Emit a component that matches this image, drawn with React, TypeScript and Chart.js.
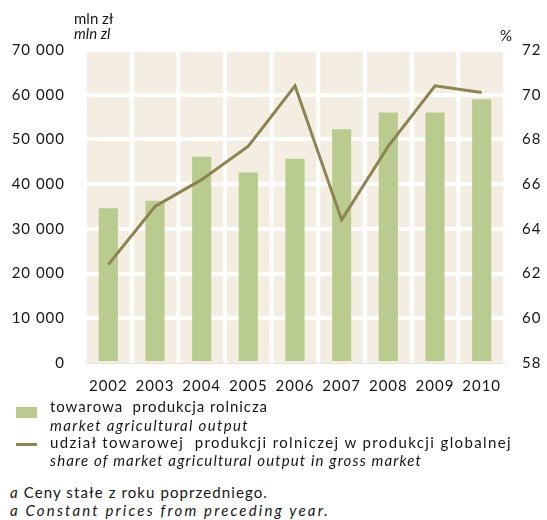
import { useEffect, useLayoutEffect, useRef } from 'react';
import { Chart, registerables } from 'chart.js';

Chart.register(...registerables);

const years = ['2002', '2003', '2004', '2005', '2006', '2007', '2008', '2009', '2010'];
const marketOutput = [34600, 36300, 46100, 42600, 45700, 52300, 56000, 56000, 59000];
const sharePercent = [62.4, 65.0, 66.2, 67.7, 70.4, 64.4, 67.7, 70.4, 70.1];
const leftMin = 0;
const leftMax = 70000;
const leftStep = 10000;
const rightMin = 58;
const rightMax = 72;
const rightStep = 2;

const FONT = 'Lato, "Open Sans", sans-serif';
const TEXT = '#161616';
const BAR = '#b9cb8f';
const LINE = '#8c8451';
const BEIGE = '#f4eee2';

const fmt = (v: number) => String(v).replace(/\B(?=(\d{3})+(?!\d))/g, ' ');

const bgPlugin = {
  id: 'bgPlugin',
  beforeDraw(chart: any) {
    const { ctx, chartArea } = chart;
    try { ctx.letterSpacing = '1px'; } catch (e) { /* ignore */ }
    if (!chartArea) return;
    ctx.save();
    ctx.fillStyle = BEIGE;
    ctx.fillRect(chartArea.left, chartArea.top, chartArea.right - chartArea.left, chartArea.bottom - chartArea.top);
    ctx.restore();
  },
  beforeDatasetsDraw(chart: any) {
    const { ctx, chartArea } = chart;
    const xs = chart.scales.x;
    if (!chartArea || !xs) return;
    const n = xs.ticks.length;
    const half = (xs.getPixelForTick(1) - xs.getPixelForTick(0)) / 2;
    ctx.save();
    ctx.strokeStyle = '#ffffff';
    ctx.lineWidth = 4;
    for (let i = 0; i <= n; i++) {
      const px = i < n ? xs.getPixelForTick(i) - half : xs.getPixelForTick(n - 1) + half;
      ctx.beginPath();
      ctx.moveTo(px, chartArea.top);
      ctx.lineTo(px, chartArea.bottom);
      ctx.stroke();
    }
    ctx.restore();
  },
};

function ChartCanvas() {
  const ref = useRef<HTMLCanvasElement | null>(null);
  useEffect(() => {
    if (!ref.current) return;
    const chart = new Chart(ref.current, {
      type: 'bar',
      data: {
        labels: years,
        datasets: [
          {
            type: 'line',
            label: 'udział',
            data: sharePercent,
            borderColor: LINE,
            backgroundColor: LINE,
            borderWidth: 3,
            pointRadius: 0,
            tension: 0,
            yAxisID: 'y1',
            order: 1,
          } as any,
          {
            type: 'bar',
            label: 'towarowa',
            data: marketOutput,
            backgroundColor: BAR,
            barPercentage: 0.41,
            categoryPercentage: 1,
            yAxisID: 'y',
            order: 2,
          },
        ],
      },
      options: {
        responsive: false,
        animation: false,
        layout: { padding: { top: 50, left: 0, right: 0, bottom: 0 } },
        plugins: { legend: { display: false }, tooltip: { enabled: false }, title: { display: false } },
        scales: {
          x: {
            offset: true,
            grid: { display: false, drawTicks: false },
            border: { display: true, color: '#ebe5d6', width: 1 },
            ticks: { color: TEXT, font: { family: FONT, size: 15 }, padding: 14 },
            afterFit: (s: any) => { s.height = 37; },
          },
          y: {
            position: 'left',
            min: leftMin,
            max: leftMax,
            grid: {
              color: (c: any) => (c.tick && c.tick.value === 0 ? 'rgba(0,0,0,0)' : '#ffffff'),
              lineWidth: 4,
              drawTicks: false,
            },
            border: { display: false },
            ticks: {
              stepSize: leftStep,
              color: TEXT,
              font: { family: FONT, size: 15 },
              padding: 20,
              callback: (v: any) => fmt(Number(v)),
            },
            afterFit: (s: any) => { s.width = 85; },
          },
          y1: {
            position: 'right',
            min: rightMin,
            max: rightMax,
            grid: { display: false, drawTicks: false },
            border: { display: false },
            ticks: { stepSize: rightStep, color: TEXT, font: { family: FONT, size: 15 }, padding: 17 },
            afterFit: (s: any) => { s.width = 42; },
          },
        },
      },
      plugins: [bgPlugin],
    });
    return () => chart.destroy();
  }, []);
  return <canvas ref={ref} width={547} height={400} style={{ position: 'absolute', left: 0, top: 0 }} />;
}

const txt: any = { position: 'absolute', fontFamily: FONT, fontSize: 15, color: TEXT, whiteSpace: 'pre', lineHeight: '18px' };

function FitText({ width, style, children }: { width: number; style: any; children: any }) {
  const ref = useRef<HTMLDivElement | null>(null);
  useLayoutEffect(() => {
    const fit = () => {
      const el = ref.current;
      if (!el) return;
      el.style.letterSpacing = '0px';
      const w = el.getBoundingClientRect().width;
      const n = (el.textContent || '').length;
      if (n > 1) el.style.letterSpacing = ((width - w) / n).toFixed(3) + 'px';
    };
    fit();
    if ((document as any).fonts && (document as any).fonts.ready) (document as any).fonts.ready.then(fit);
  }, [width]);
  return <div ref={ref} style={{ ...style, display: 'inline-block' }}>{children}</div>;
}

export default function App() {
  return (
    <div style={{ position: 'absolute', left: 0, top: 0, width: 547, height: 520, background: '#fff', overflow: 'hidden' }}>
      <ChartCanvas />
      <div style={{ ...txt, left: 74, top: 9 }}>mln zł</div>
      <div style={{ ...txt, left: 74, top: 24, fontStyle: 'italic' }}>mln zl</div>
      <div style={{ ...txt, left: 500, top: 26 }}>%</div>

      <div style={{ position: 'absolute', left: 16, top: 407, width: 21, height: 11, background: BAR }} />
      <FitText width={218} style={{ ...txt, left: 50, top: 397 }}>towarowa  produkcja rolnicza</FitText>
      <FitText width={199} style={{ ...txt, left: 50, top: 416, fontStyle: 'italic' }}>market agricultural output</FitText>

      <div style={{ position: 'absolute', left: 16, top: 443, width: 21, height: 3, background: LINE }} />
      <FitText width={462} style={{ ...txt, left: 50, top: 433 }}>udział towarowej  produkcji rolniczej w produkcji globalnej</FitText>
      <FitText width={372} style={{ ...txt, left: 50, top: 451, fontStyle: 'italic' }}>share of market agricultural output in gross market</FitText>

      <FitText width={258} style={{ ...txt, left: 10, top: 483 }}><span style={{ fontStyle: 'italic' }}>a</span> Ceny stałe z roku poprzedniego.</FitText>
      <FitText width={320} style={{ ...txt, left: 10, top: 501, fontStyle: 'italic' }}>a Constant prices from preceding year.</FitText>
    </div>
  );
}
